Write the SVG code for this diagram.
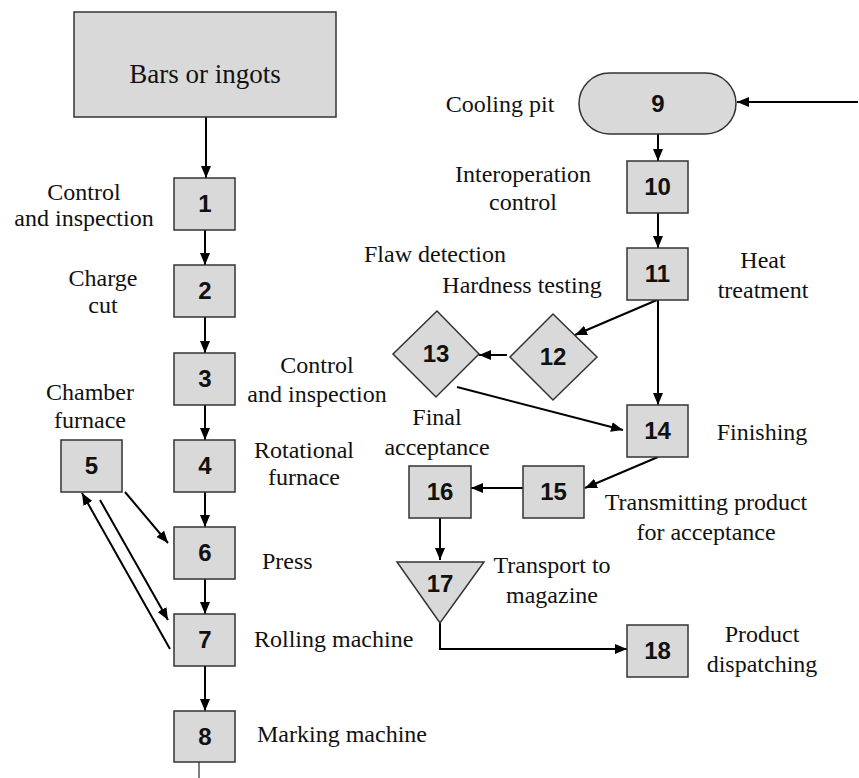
<svg xmlns="http://www.w3.org/2000/svg" width="859" height="778" viewBox="0 0 859 778">
<style>
.box{fill:#d9d9d9;stroke:#333;stroke-width:1.5}
.num{font-family:"Liberation Sans",Arial,sans-serif;font-weight:bold;font-size:24px;text-anchor:middle;fill:#111}
.lbl{font-family:"Liberation Serif","Times New Roman",serif;font-size:24px;fill:#111}
.c{text-anchor:middle}
.ar{stroke:#000;stroke-width:2;fill:none;marker-end:url(#ah)}
.ln{stroke:#000;stroke-width:2;fill:none}
</style>
<defs>
<marker id="ah" markerUnits="userSpaceOnUse" markerWidth="14" markerHeight="12" refX="12" refY="5" orient="auto">
<path d="M0,0 L12,5 L0,10 Z" fill="#000"/>
</marker>
</defs>
<rect width="859" height="778" fill="#fff"/>
<g id="connectors">
<line class="ar" x1="206" y1="117" x2="206" y2="178"/>
<line class="ar" x1="205" y1="230" x2="205" y2="265"/>
<line class="ar" x1="205" y1="317" x2="205" y2="353"/>
<line class="ar" x1="205" y1="405" x2="205" y2="440"/>
<line class="ar" x1="205" y1="492" x2="205" y2="527"/>
<line class="ar" x1="205" y1="579" x2="205" y2="614"/>
<line class="ar" x1="205" y1="666" x2="205" y2="711"/>
<line class="ar" x1="125" y1="492" x2="168" y2="543"/>
<line class="ar" x1="100" y1="500" x2="168" y2="620"/>
<line class="ar" x1="170" y1="649" x2="82" y2="493"/>
<line x1="199" y1="762" x2="199" y2="778" stroke="#000" stroke-width="1"/>
<line class="ar" x1="858" y1="102" x2="737" y2="102"/>
<line class="ar" x1="658" y1="134" x2="658" y2="161"/>
<line class="ar" x1="658" y1="213" x2="658" y2="248"/>
<line class="ar" x1="657" y1="300" x2="575" y2="335"/>
<line class="ar" x1="658" y1="300" x2="658" y2="405"/>
<line class="ar" x1="507" y1="355" x2="479" y2="355"/>
<line class="ar" x1="457" y1="387" x2="623" y2="430"/>
<line class="ar" x1="658" y1="457" x2="585" y2="488"/>
<line class="ar" x1="523" y1="488" x2="471" y2="488"/>
<line class="ar" x1="440" y1="518" x2="440" y2="560"/>
<polyline class="ar" points="440,623 440,649 627,649"/>
</g>
<g id="bars">
<rect class="box" x="74" y="12" width="262" height="105"/>
<text class="lbl c" x="205" y="83" style="font-size:27px">Bars or ingots</text>
</g>
<g id="n1"><rect class="box" x="174" y="178" width="61" height="52"/><text class="num" x="205" y="212">1</text>
<text class="lbl c" x="84" y="200">Control</text><text class="lbl c" x="84" y="226">and inspection</text></g>
<g id="n2"><rect class="box" x="174" y="265" width="61" height="52"/><text class="num" x="205" y="299">2</text>
<text class="lbl c" x="103" y="286">Charge</text><text class="lbl c" x="103" y="313">cut</text></g>
<g id="n3"><rect class="box" x="174" y="353" width="61" height="52"/><text class="num" x="205" y="387">3</text>
<text class="lbl c" x="317" y="373">Control</text><text class="lbl c" x="317" y="402">and inspection</text></g>
<g id="n4"><rect class="box" x="174" y="440" width="61" height="52"/><text class="num" x="205" y="474">4</text>
<text class="lbl c" x="304" y="458">Rotational</text><text class="lbl c" x="304" y="485">furnace</text></g>
<g id="n5"><rect class="box" x="61" y="440" width="61" height="52"/><text class="num" x="91.5" y="474">5</text>
<text class="lbl c" x="90" y="400">Chamber</text><text class="lbl c" x="90" y="428">furnace</text></g>
<g id="n6"><rect class="box" x="174" y="527" width="61" height="52"/><text class="num" x="205" y="561">6</text>
<text class="lbl" x="262" y="569">Press</text></g>
<g id="n7"><rect class="box" x="174" y="614" width="61" height="52"/><text class="num" x="205" y="648">7</text>
<text class="lbl" x="254" y="647">Rolling machine</text></g>
<g id="n8"><rect class="box" x="174" y="711" width="61" height="51"/><text class="num" x="205" y="745">8</text>
<text class="lbl" x="257" y="742">Marking machine</text></g>
<g id="n9"><rect class="box" x="579" y="73" width="157" height="61" rx="30.5"/><text class="num" x="658" y="112">9</text>
<text class="lbl c" x="500" y="112">Cooling pit</text></g>
<g id="n10"><rect class="box" x="627" y="161" width="61" height="52"/><text class="num" x="657.5" y="195">10</text>
<text class="lbl c" x="523" y="182">Interoperation</text><text class="lbl c" x="523" y="210">control</text></g>
<g id="n11"><rect class="box" x="627" y="248" width="61" height="52"/><text class="num" x="657.5" y="282">11</text>
<text class="lbl c" x="763" y="268">Heat</text><text class="lbl c" x="763" y="298">treatment</text></g>
<g id="n12"><polygon class="box" points="553,314 597,357 553,400 510,357"/><text class="num" x="553" y="365">12</text>
<text class="lbl c" x="522" y="293">Hardness testing</text></g>
<g id="n13"><polygon class="box" points="437,311 479,354 436,397 393,354"/><text class="num" x="436" y="362">13</text>
<text class="lbl c" x="435" y="262">Flaw detection</text></g>
<g id="n14"><rect class="box" x="627" y="405" width="61" height="52"/><text class="num" x="657.5" y="439">14</text>
<text class="lbl c" x="762" y="440">Finishing</text></g>
<g id="n15"><rect class="box" x="523" y="466" width="61" height="52"/><text class="num" x="553.5" y="500">15</text>
<text class="lbl c" x="706" y="510">Transmitting product</text><text class="lbl c" x="706" y="540">for acceptance</text></g>
<g id="n16"><rect class="box" x="409" y="466" width="62" height="52"/><text class="num" x="440" y="500">16</text>
<text class="lbl c" x="437" y="425">Final</text><text class="lbl c" x="437" y="455">acceptance</text></g>
<g id="n17"><polygon class="box" points="397,562 484,562 440,623"/><text class="num" x="440" y="592">17</text>
<text class="lbl c" x="552" y="573">Transport to</text><text class="lbl c" x="552" y="603">magazine</text></g>
<g id="n18"><rect class="box" x="627" y="625" width="61" height="52"/><text class="num" x="657.5" y="659">18</text>
<text class="lbl c" x="762" y="642">Product</text><text class="lbl c" x="762" y="672">dispatching</text></g>
</svg>
